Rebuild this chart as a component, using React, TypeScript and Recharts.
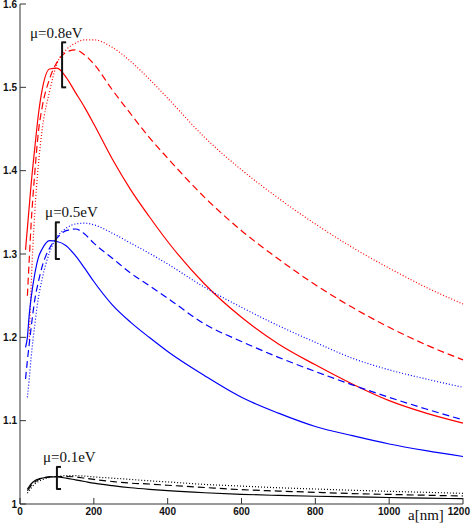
import React from 'react';
import { LineChart, Line, XAxis, YAxis, ReferenceLine, ReferenceDot } from 'recharts';

// lattice constant a [nm]
const aNm = [15, 20, 25, 30, 40, 50, 60, 80, 100, 125, 150, 175, 200, 250, 300, 350, 400, 500, 600, 700, 800, 900, 1000, 1100, 1200];

// mu = 0.8 eV (red)
const red08Solid = [1.305, 1.331, 1.357, 1.383, 1.427, 1.468, 1.497, 1.522, 1.523, 1.512, 1.494, 1.476, 1.456, 1.414, 1.377, 1.345, 1.315, 1.264, 1.224, 1.192, 1.167, 1.144, 1.124, 1.109, 1.097];
const red08Dashed = [null, 1.250, 1.293, 1.335, 1.397, 1.447, 1.476, 1.510, 1.530, 1.542, 1.545, 1.539, 1.528, 1.497, 1.468, 1.440, 1.415, 1.368, 1.328, 1.294, 1.263, 1.236, 1.212, 1.191, 1.173];
const red08Dotted = [null, null, 1.197, 1.260, 1.350, 1.408, 1.449, 1.495, 1.528, 1.545, 1.553, 1.557, 1.557, 1.548, 1.531, 1.510, 1.487, 1.440, 1.401, 1.367, 1.336, 1.308, 1.283, 1.260, 1.240];

// mu = 0.5 eV (blue)
const blue05Solid = [1.188, 1.200, 1.227, 1.247, 1.276, 1.296, 1.306, 1.316, 1.315, 1.310, 1.298, 1.283, 1.267, 1.239, 1.218, 1.200, 1.183, 1.154, 1.128, 1.109, 1.093, 1.082, 1.072, 1.064, 1.057];
const blue05Dashed = [1.150, 1.172, 1.192, 1.211, 1.245, 1.267, 1.285, 1.307, 1.319, 1.328, 1.330, 1.324, 1.313, 1.295, 1.277, 1.262, 1.247, 1.216, 1.195, 1.176, 1.159, 1.143, 1.128, 1.114, 1.101];
const blue05Dotted = [null, 1.128, 1.150, 1.175, 1.215, 1.248, 1.270, 1.302, 1.320, 1.331, 1.336, 1.337, 1.335, 1.325, 1.313, 1.301, 1.288, 1.260, 1.236, 1.214, 1.194, 1.175, 1.161, 1.150, 1.140];

// mu = 0.1 eV (black)
const black01Solid = [null, 1.018, 1.021, 1.024, 1.028, 1.030, 1.031, 1.0325, 1.0325, 1.031, 1.029, 1.027, 1.025, 1.022, 1.0195, 1.0176, 1.016, 1.0135, 1.0116, 1.0103, 1.0093, 1.0085, 1.0078, 1.007, 1.0064];
const black01Dashed = [null, 1.016, 1.019, 1.022, 1.026, 1.029, 1.031, 1.0325, 1.033, 1.033, 1.0325, 1.031, 1.0295, 1.027, 1.025, 1.024, 1.0225, 1.0198, 1.0172, 1.0155, 1.014, 1.0125, 1.0115, 1.0105, 1.0096];
const black01Dotted = [null, 1.013, 1.016, 1.019, 1.024, 1.027, 1.029, 1.032, 1.033, 1.034, 1.034, 1.0335, 1.0325, 1.031, 1.0295, 1.0278, 1.0265, 1.0235, 1.0215, 1.0195, 1.018, 1.0165, 1.0152, 1.014, 1.0128];

const xTicks = [0, 200, 400, 600, 800, 1000, 1200];
const yTicks = [1, 1.1, 1.2, 1.3, 1.4, 1.5, 1.6];

// annotation: label text, text anchor point, bracket x and y range
const muLabels = [
  { text: 'μ=0.8eV', a: 27, v: 1.559, bx: 114, y0: 1.5, y1: 1.554 },
  { text: 'μ=0.5eV', a: 68, v: 1.345, bx: 97, y0: 1.294, y1: 1.338 },
  { text: 'μ=0.1eV', a: 62, v: 1.050, bx: 100, y0: 1.018, y1: 1.0445 },
];

const data = aNm.map((a, i) => ({
  a,
  r1: red08Solid[i], r2: red08Dashed[i], r3: red08Dotted[i],
  b1: blue05Solid[i], b2: blue05Dashed[i], b3: blue05Dotted[i],
  k1: black01Solid[i], k2: black01Dashed[i], k3: black01Dotted[i],
}));

const tickFont = { fontFamily: 'Liberation Sans, Arial, sans-serif', fontWeight: 700, fontSize: 10, fill: '#111' };
const serif = 'Liberation Serif, DejaVu Serif, serif';
const frame = '#333';

const BottomTick = (p: any) => {
  const last = p.payload.value === 1200;
  return (
    <g>
      <line x1={p.x} y1={p.y} x2={p.x} y2={p.y - 6} stroke={frame} />
      <text x={last ? 470 : p.x} y={p.y + 11} textAnchor={last ? 'end' : 'middle'} {...tickFont}>{p.payload.value}</text>
    </g>
  );
};
const LeftTick = (p: any) => (
  <g>
    <line x1={p.x} y1={p.y} x2={p.x + 6} y2={p.y} stroke={frame} />
    <text x={p.x - 3} y={p.y + 3.5} textAnchor="end" {...tickFont}>{String(p.payload.value)}</text>
  </g>
);
const TopTick = (p: any) => <line x1={p.x} y1={p.y} x2={p.x} y2={p.y + 6} stroke={frame} />;
const RightTick = (p: any) => <line x1={p.x} y1={p.y} x2={p.x - 6} y2={p.y} stroke={frame} />;

const series = [
  { key: 'r1', color: '#f00', dash: undefined },
  { key: 'r2', color: '#f00', dash: '7 4' },
  { key: 'r3', color: '#f00', dash: '1 2' },
  { key: 'b1', color: '#00f', dash: undefined },
  { key: 'b2', color: '#00f', dash: '7 4' },
  { key: 'b3', color: '#00f', dash: '1 2' },
  { key: 'k1', color: '#000', dash: undefined },
  { key: 'k2', color: '#000', dash: '7 4' },
  { key: 'k3', color: '#000', dash: '1 2' },
];

export default function App() {
  return (
    <div style={{ position: 'absolute', left: 0, top: 0, background: '#fff' }}>
      <LineChart width={471} height={523} data={data} margin={{ top: 4, right: 8, left: 0, bottom: 0 }}>
        <XAxis xAxisId="b" dataKey="a" type="number" domain={[0, 1200]} ticks={xTicks} height={19}
          tickSize={0} tickMargin={0} tickLine={false} tick={BottomTick} axisLine={{ stroke: frame }} interval={0} />
        <XAxis xAxisId="t" orientation="top" dataKey="a" type="number" domain={[0, 1200]} ticks={xTicks} height={0}
          tickSize={0} tickMargin={0} tickLine={false} tick={TopTick} axisLine={{ stroke: frame }} interval={0} />
        <YAxis yAxisId="l" type="number" domain={[1, 1.6]} ticks={yTicks} width={20} allowDataOverflow
          tickSize={0} tickMargin={0} tickLine={false} tick={LeftTick} axisLine={{ stroke: frame }} interval={0} />
        <YAxis yAxisId="r" orientation="right" type="number" domain={[1, 1.6]} ticks={yTicks} width={0} allowDataOverflow
          tickSize={0} tickMargin={0} tickLine={false} tick={RightTick} axisLine={{ stroke: frame }} interval={0} />

        {series.map((s) => (
          <Line key={s.key} xAxisId="b" yAxisId="l" dataKey={s.key} type="monotone" stroke={s.color}
            strokeWidth={1.2} strokeDasharray={s.dash} dot={false} isAnimationActive={false} />
        ))}

        {muLabels.map((m) => (
          <ReferenceLine key={m.text + 'v'} xAxisId="b" yAxisId="l" stroke="#111" strokeWidth={2}
            segment={[{ x: m.bx, y: m.y0 }, { x: m.bx, y: m.y1 }]} />
        ))}
        {muLabels.map((m) => (
          <ReferenceLine key={m.text + 't'} xAxisId="b" yAxisId="l" stroke="#111" strokeWidth={2}
            segment={[{ x: m.bx - 2, y: m.y1 }, { x: m.bx + 11, y: m.y1 }]} />
        ))}
        {muLabels.map((m) => (
          <ReferenceLine key={m.text + 'b'} xAxisId="b" yAxisId="l" stroke="#111" strokeWidth={2}
            segment={[{ x: m.bx - 2, y: m.y0 }, { x: m.bx + 11, y: m.y0 }]} />
        ))}
        {muLabels.map((m) => (
          <ReferenceDot key={m.text} xAxisId="b" yAxisId="l" x={m.a} y={m.v} r={0}
            shape={(p: any) => (
              <text x={p.cx} y={p.cy} fontFamily={serif} fontSize={15} fill="#111">{m.text}</text>
            )} />
        ))}
        <ReferenceDot xAxisId="b" yAxisId="l" x={1200} y={1} r={0}
          shape={(p: any) => (
            <text x={p.cx - 55} y={p.cy + 16} fontFamily={serif} fontSize={15} fill="#111">a[nm]</text>
          )} />
      </LineChart>
    </div>
  );
}
